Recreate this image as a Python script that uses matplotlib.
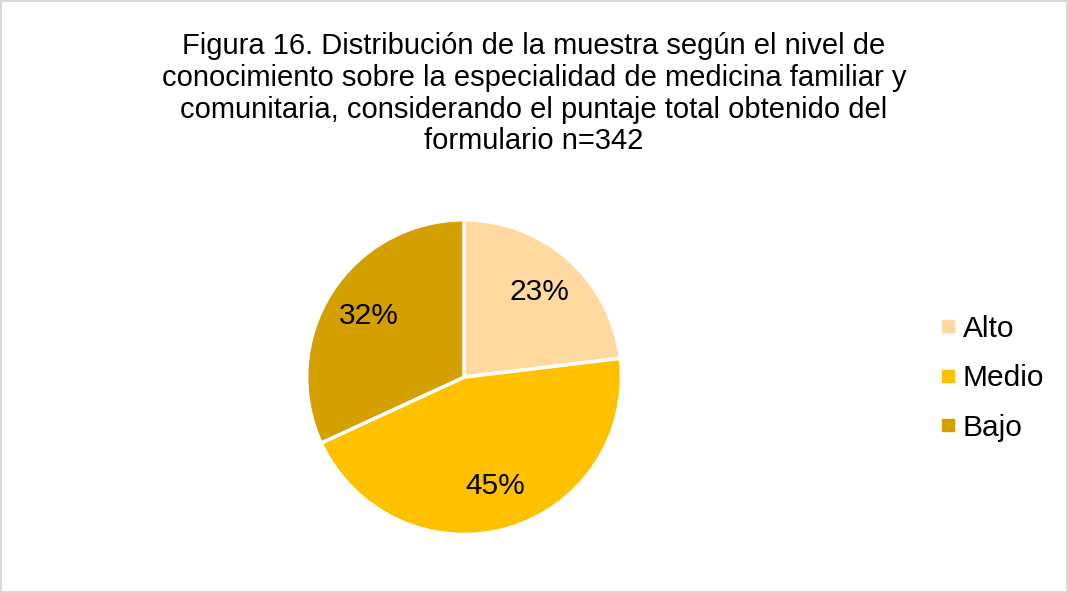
import matplotlib.pyplot as plt
from matplotlib.lines import Line2D

plt.rcParams["font.family"] = ["Liberation Sans", "DejaVu Sans"]

# data
categories = ["Alto", "Medio", "Bajo"]
counts = [79, 154, 109]
colors = ["#FFD9A0", "#FFC000", "#D4A000"]

title = ("Figura 16. Distribución de la muestra según el nivel de\n"
         "conocimiento sobre la especialidad de medicina familiar y\n"
         "comunitaria, considerando el puntaje total obtenido del\n"
         "formulario n=342")

fig = plt.figure(figsize=(10.68, 5.93), dpi=100)
fig.patch.set_facecolor("white")

# light border around chart area
border = plt.Rectangle((0.001, 0.001), 0.998, 0.997, transform=fig.transFigure,
                       fill=False, edgecolor="#D9D9D9", linewidth=1.5)
fig.add_artist(border)

fig.text(0.5, 0.946, title, ha="center", va="top", fontsize=21,
         linespacing=1.17, color="#000000")

ax = fig.add_axes([0.2856, 0.096, 0.2978, 0.536])
wedges, texts, autotexts = ax.pie(
    counts, colors=colors, startangle=90, counterclock=False,
    autopct=lambda p: f"{p:.0f}%", pctdistance=0.72,
    wedgeprops=dict(edgecolor="white", linewidth=2.5),
    textprops=dict(fontsize=21.5, color="#000000"), radius=1.0)
ax.set_xlim(-1.01, 1.01)
ax.set_ylim(-1.01, 1.01)
ax.set_aspect("equal")

handles = [Line2D([0], [0], marker="s", linestyle="", markersize=8,
                  markerfacecolor=c, markeredgecolor=c) for c in colors]
fig.legend(handles, categories, loc="center left",
           bbox_to_anchor=(0.868, 0.362), frameon=False, fontsize=21.5,
           handlelength=0.6, handletextpad=0.2, labelspacing=0.72,
           borderaxespad=0)

fig.savefig("out.png", dpi=100)
